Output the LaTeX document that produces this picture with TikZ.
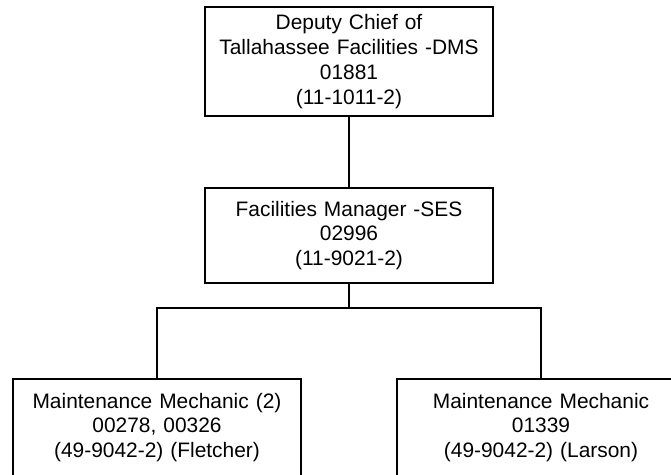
\documentclass[tikz,border=0pt]{standalone}
\usepackage{fontspec}
\setmainfont{Liberation Sans}
\begin{document}
\begin{tikzpicture}[x=1bp,y=-1bp,
  post/.style={draw=black, line width=1.6bp, fill=white, inner sep=0pt,
    align=center, text width=280bp, minimum width=288bp,
    font=\fontsize{21}{25}\selectfont},
  link/.style={draw=black, line width=1.6bp}]
  % page frame; the chart runs past the right and bottom edges
  \useasboundingbox (0,0) rectangle (671,475);
  \clip (0,0) rectangle (671,475);
  \fill[white] (0,0) rectangle (671,475);

  \node[post, minimum height=109bp] (chief) at (349,61.5)
    {Deputy Chief of\\Tallahassee Facilities -DMS\\01881\\(11-1011-2)};
  \node[post, minimum height=95bp] (mgr) at (349,235.5)
    {Facilities Manager -SES\\02996\\(11-9021-2)};
  \node[post, minimum height=97bp] (mechA) at (157,427.5)
    {Maintenance Mechanic (2)\\00278, 00326\\(49-9042-2) (Fletcher)};
  \node[post, minimum height=97bp] (mechB) at (541,427.5)
    {Maintenance Mechanic\\01339\\(49-9042-2) (Larson)};

  \coordinate (bus) at (349,308);
  \draw[link] (chief.south) -- (mgr.north);
  \draw[link] (mgr.south) -- (bus);
  \draw[link] (bus) -| (mechA.north);
  \draw[link] (bus) -| (mechB.north);
\end{tikzpicture}
\end{document}
